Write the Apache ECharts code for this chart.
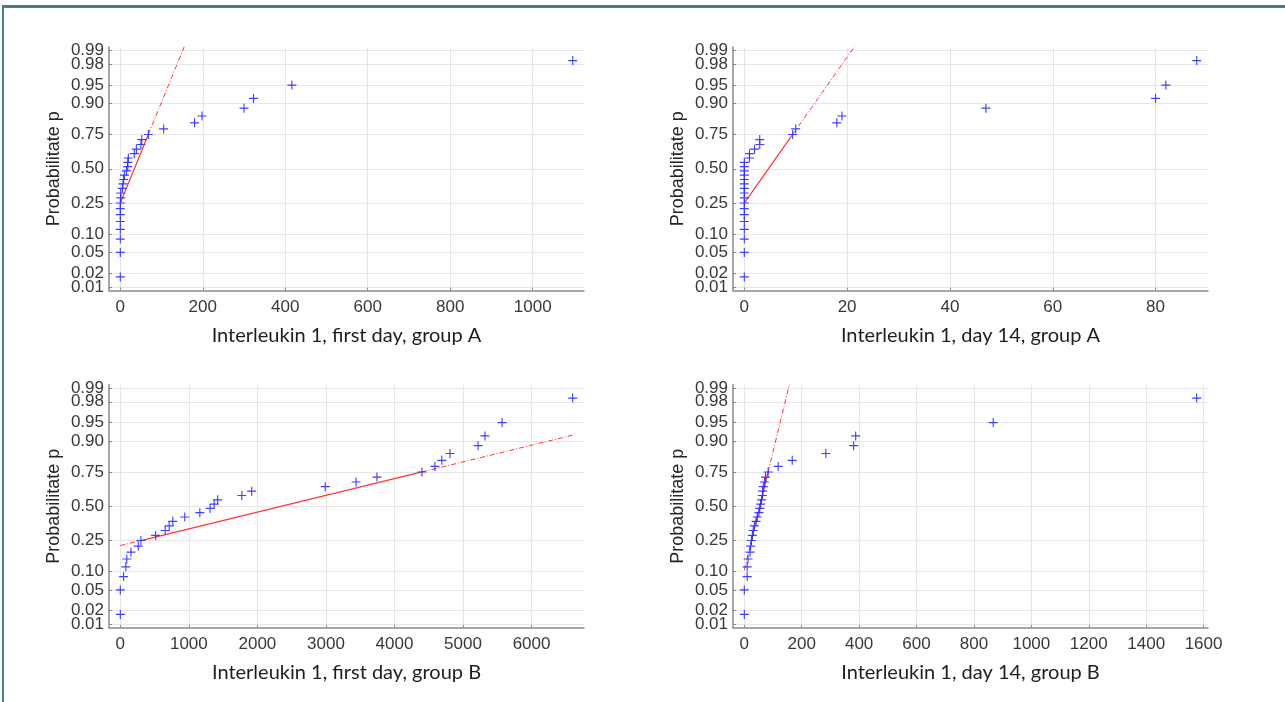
<!DOCTYPE html>
<html lang="en">
<head>
  <meta charset="UTF-8">
  <title>Normal probability plots</title>
  <script src="https://cdn.jsdelivr.net/npm/echarts@6/dist/echarts.min.js"></script>
  <style>
    html, body { margin: 0; padding: 0; background: #fff; }
    #frame {
      position: absolute; left: 2px; top: 5px; width: 1300px; height: 720px;
      border-top: 3px solid #47807e; border-left: 2px solid #47807e;
    }
    #main { position: absolute; left: 0; top: 0; width: 1285px; height: 702px; }
  </style>
</head>
<body>
  <div id="frame"></div>
  <div id="main"></div>
  <script>
    // probability levels of the 30 ranked points (same in every panel)
    let probs = [0.0167, 0.05, 0.0833, 0.1167, 0.15, 0.1833, 0.2167, 0.25, 0.2833, 0.3167,
      0.35, 0.3833, 0.4167, 0.45, 0.4833, 0.5167, 0.55, 0.5833, 0.6167, 0.65,
      0.6833, 0.7167, 0.75, 0.7833, 0.8167, 0.85, 0.8833, 0.9167, 0.95, 0.9833]
    let probTicks = [0.01, 0.02, 0.05, 0.10, 0.25, 0.50, 0.75, 0.90, 0.95, 0.98, 0.99]
    // the two tightly packed labels, drawn on a second axis so echarts does not drop them
    let probTicksTight = [0.02, 0.98]
    let probLimit = 0.00833

    // sorted measurements, one list per panel
    let day1A = [0, 0, 0, 0, 0, 0, 0, 0, 1, 1, 5, 6.5, 8, 10, 15, 18, 18, 19.5, 34, 39,
      50, 52, 68, 105, 180, 198, 300, 323, 416, 1097]
    let day14A = [0, 0, 0, 0, 0, 0, 0, 0, 0, 0, 0, 0, 0, 0, 0, 0, 0, 1, 1, 2,
      3, 3, 9.4, 10, 18, 19, 47, 80, 82, 88]
    let day1B = [0, 0, 48, 80, 95, 155, 262, 300, 515, 655, 713, 765, 940, 1160, 1310, 1370, 1420, 1773, 1917, 2990,
      3440, 3745, 4400, 4590, 4690, 4810, 5220, 5320, 5570, 6600]
    let day14B = [0, 0, 10, 10, 13, 20, 22, 25, 28, 31, 35, 41, 45, 51, 54, 57, 60, 63, 64, 66,
      70, 74, 83, 118, 167, 284, 381, 388, 867, 1576]

    let ticksDay1A = [0, 200, 400, 600, 800, 1000]
    let ticksDay14A = [0, 20, 40, 60, 80]
    let ticksDay1B = [0, 1000, 2000, 3000, 4000, 5000, 6000]
    let ticksDay14B = [0, 200, 400, 600, 800, 1000, 1200, 1400, 1600]

    let titles = ['Interleukin 1, first day, group A', 'Interleukin 1, day 14, group A',
      'Interleukin 1, first day, group B', 'Interleukin 1, day 14, group B']

    // inverse normal cdf (Acklam), used as the probability scale
    let norminv = p => {
      const a = [-3.969683028665376e+01, 2.209460984245205e+02, -2.759285104469687e+02, 1.383577518672690e+02, -3.066479806614716e+01, 2.506628277459239e+00]
      const b = [-5.447609879822406e+01, 1.615858368580409e+02, -1.556989798598866e+02, 6.680131188771972e+01, -1.328068155288572e+01]
      const c = [-7.784894002430293e-03, -3.223964580411365e-01, -2.400758277161838e+00, -2.549671348804358e+00, 4.374664141464968e+00, 2.938163982698783e+00]
      const d = [7.784695709041462e-03, 3.224671290700398e-01, 2.445134137142996e+00, 3.754408661907416e+00]
      const pl = 0.02425
      let q, r
      if (p < pl) {
        q = Math.sqrt(-2 * Math.log(p))
        return (((((c[0] * q + c[1]) * q + c[2]) * q + c[3]) * q + c[4]) * q + c[5]) / ((((d[0] * q + d[1]) * q + d[2]) * q + d[3]) * q + 1)
      }
      if (p > 1 - pl) return -norminv(1 - p)
      q = p - 0.5
      r = q * q
      return (((((a[0] * r + a[1]) * r + a[2]) * r + a[3]) * r + a[4]) * r + a[5]) * q / (((((b[0] * r + b[1]) * r + b[2]) * r + b[3]) * r + b[4]) * r + 1)
    }

    let zLim = -norminv(probLimit)
    let zTicks = probTicks.map(norminv)
    let zTight = probTicksTight.map(norminv)
    let zLoose = probTicks.filter(p => probTicksTight.indexOf(p) < 0).map(norminv)
    let probLabel = v => {
      let best = 0
      zTicks.forEach((z, i) => { if (Math.abs(z - v) < Math.abs(zTicks[best] - v)) best = i })
      return probTicks[best].toFixed(2)
    }

    let panels = [
      { vals: day1A, ticks: ticksDay1A, left: 109, top: 47 },
      { vals: day14A, ticks: ticksDay14A, left: 733, top: 47 },
      { vals: day1B, ticks: ticksDay1B, left: 109, top: 384.5 },
      { vals: day14B, ticks: ticksDay14B, left: 733, top: 384.5 }
    ]

    let axisGray = '#8a8a8a'
    let gridGray = '#e6e6e6'
    let labelStyle = {
      color: '#383838', fontSize: 17, fontFamily: 'Liberation Sans',
      hideOverlap: false, showMinLabel: true, showMaxLabel: true
    }
    let plusPath = 'path://M0,3.5H3.5V0H4.5V3.5H8V4.5H4.5V8H3.5V4.5H0Z'

    let option = { animation: false, grid: [], xAxis: [], yAxis: [], series: [] }

    panels.forEach((pn, k) => {
      let v = pn.vals
      let lo = v[0], hi = v[v.length - 1]
      let pad = (hi - lo) * 0.025
      let yMain = 2 * k
      option.grid.push({ left: pn.left, top: pn.top, width: 475, height: 243.5 })
      option.xAxis.push({
        type: 'value', gridIndex: k, min: lo - pad, max: hi + pad,
        axisLine: { show: true, onZero: false, lineStyle: { color: axisGray, width: 1.5 } },
        axisTick: { show: true, inside: true, length: 3, customValues: pn.ticks, lineStyle: { color: axisGray } },
        axisLabel: Object.assign({ customValues: pn.ticks, margin: 8, formatter: x => String(x) }, labelStyle),
        splitLine: { show: true, lineStyle: { color: gridGray, width: 1 } },
        name: titles[k], nameLocation: 'middle', nameGap: 35,
        nameTextStyle: { fontFamily: 'Lato', fontSize: 20, color: '#1e1e1e' }
      })
      option.yAxis.push({
        type: 'value', gridIndex: k, min: -zLim, max: zLim, position: 'left',
        axisLine: { show: true, onZero: false, lineStyle: { color: axisGray, width: 1.5 } },
        axisTick: { show: true, inside: true, length: 3, customValues: zTicks, lineStyle: { color: axisGray } },
        axisLabel: Object.assign({ customValues: zLoose, formatter: probLabel, margin: 5 }, labelStyle),
        splitLine: { show: true, lineStyle: { color: gridGray, width: 1 } },
        name: 'Probabilitate p', nameLocation: 'middle', nameGap: 46, nameRotate: 90,
        nameTextStyle: { fontFamily: 'Liberation Sans', fontSize: 18, color: '#262626' }
      })
      option.yAxis.push({
        type: 'value', gridIndex: k, min: -zLim, max: zLim, position: 'left', offset: 0,
        axisLine: { show: false, onZero: false },
        axisTick: { show: false },
        axisLabel: Object.assign({ customValues: zTight, formatter: probLabel, margin: 5 }, labelStyle),
        splitLine: { show: false }
      })

      // reference line through the quartiles, solid between them, dash-dot to the data extremes
      let q1 = v[7], q3 = v[22]
      let z1 = norminv(0.25), z3 = norminv(0.75)
      let slope = (z3 - z1) / (q3 - q1)
      let zAt = x => z1 + (x - q1) * slope
      let lineBase = { type: 'line', xAxisIndex: k, yAxisIndex: yMain, symbol: 'none', silent: true, z: 3 }
      option.series.push(Object.assign({}, lineBase, {
        data: [[lo, zAt(lo)], [q1, z1]],
        lineStyle: { color: '#ff3535', width: 1, type: [5, 2, 1, 2] }
      }))
      option.series.push(Object.assign({}, lineBase, {
        data: [[q3, z3], [hi, zAt(hi)]],
        lineStyle: { color: '#ff3535', width: 1, type: [5, 2, 1, 2] }
      }))
      option.series.push(Object.assign({}, lineBase, {
        data: [[q1, z1], [q3, z3]],
        lineStyle: { color: '#ff3535', width: 1.2 }
      }))

      option.series.push({
        type: 'scatter', xAxisIndex: k, yAxisIndex: yMain, z: 4,
        symbol: plusPath, symbolSize: 9,
        itemStyle: { color: '#2a2aff', opacity: 0.9 },
        data: v.map((x, i) => [x, norminv(probs[i])])
      })
    })

    let myChart = echarts.init(document.getElementById('main'))
    myChart.setOption(option)
  </script>
</body>
</html>
